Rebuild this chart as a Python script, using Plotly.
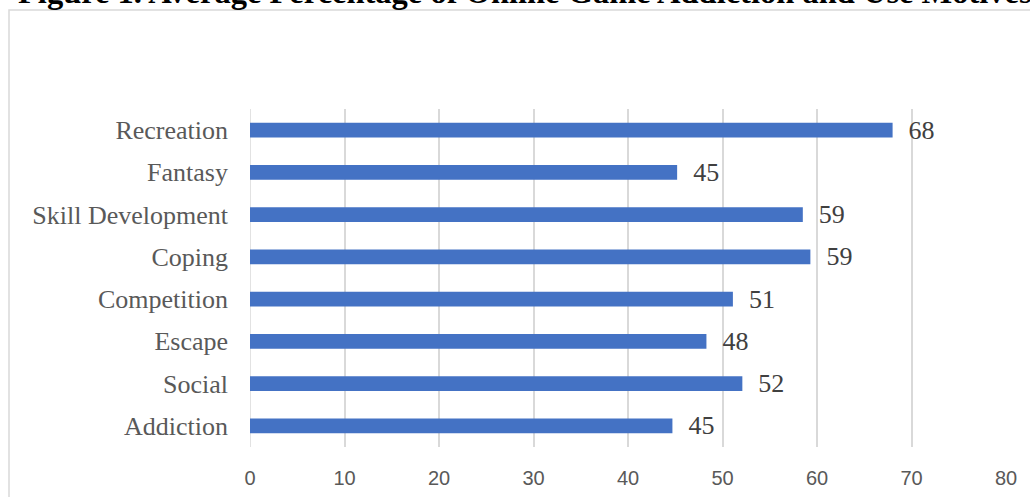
import plotly.graph_objects as go

categories = ["Addiction", "Social", "Escape", "Competition", "Coping",
              "Skill Development", "Fantasy", "Recreation"]
values = [44.7, 52.1, 48.3, 51.1, 59.3, 58.5, 45.2, 68.0]
x_ticks = [0, 10, 20, 30, 40, 50, 60, 70, 80]
title_text = "Figure 1. Average Percentage of Online Game Addiction and Use Motives"

W, H = 1030, 497
ml, mr, mt, mb = 250, 24, 109, 50
pw, ph = W - ml - mr, H - mt - mb

def px_x(p):
    return (p - ml) / pw

def px_y(p):
    return (H - mb - p) / ph

fig = go.Figure(go.Bar(
    x=values, y=categories, orientation="h",
    marker=dict(color="#4472C4", line=dict(width=0)),
    texttemplate="\u00a0\u00a0%{x:.0f}",
    textposition="outside",
    constraintext="none",
    cliponaxis=False,
    textfont=dict(family="Liberation Serif", size=26, color="#404040"),
    hoverinfo="skip",
))

fig.update_layout(
    width=W, height=H,
    margin=dict(l=ml, r=mr, t=mt, b=mb, autoexpand=False),
    paper_bgcolor="white", plot_bgcolor="white",
    bargap=0.65,
    showlegend=False,
    xaxis=dict(range=[0, 80], tickvals=x_ticks, showgrid=True,
               gridcolor="#d9d9d9", gridwidth=1.5, zeroline=False,
               showline=False, ticks="",
               tickfont=dict(family="Liberation Sans", size=20, color="#595959"),
               ticklabelstandoff=17, fixedrange=True),
    yaxis=dict(categoryorder="array", categoryarray=categories,
               showgrid=False, zeroline=False, showline=False, ticks="",
               tickfont=dict(family="Liberation Serif", size=26, color="#595959"),
               ticklabelstandoff=21, fixedrange=True),
    shapes=[
        dict(type="rect", xref="paper", yref="paper",
             x0=px_x(9), x1=px_x(1100), y0=px_y(600), y1=px_y(10),
             line=dict(color="#d9d9d9", width=1.5), fillcolor="rgba(0,0,0,0)",
             layer="below"),
        dict(type="line", xref="x", yref="paper", x0=0, x1=0, y0=0, y1=1,
             line=dict(color="#d9d9d9", width=1.5), layer="below"),
    ],
    annotations=[dict(
        text="<b>" + title_text + "</b>", xref="paper", yref="paper",
        x=px_x(525), y=px_y(-8), xanchor="center", yanchor="middle",
        showarrow=False,
        font=dict(family="Liberation Serif", size=32.5, color="#000000"),
    )],
)

fig.write_html("out.html")
